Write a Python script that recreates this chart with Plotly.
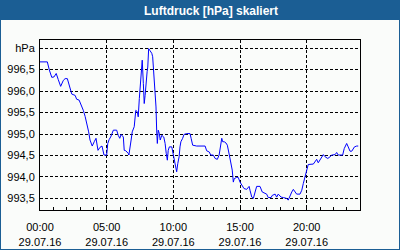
import plotly.graph_objects as go

minutes = [0, 33, 42, 53, 63, 73, 82, 93, 105, 113, 123, 135, 143, 158, 165, 176, 188, 195, 203, 210,
           219, 225, 235, 244, 252, 261, 270, 279, 288, 300, 305, 311, 318, 330, 345, 352, 359, 365, 375, 379,
           386, 397, 400, 410, 415, 424, 431, 438, 442, 447, 451, 458, 460, 465, 469, 473, 477, 482, 485, 489,
           494, 498, 503, 507, 512, 518, 522, 525, 528, 532, 537, 541, 548, 557, 563, 568, 573, 577, 582, 593,
           600, 604, 611, 615, 620, 626, 630, 634, 642, 648, 660, 675, 680, 687, 705, 743, 750, 762, 768, 780,
           788, 798, 806, 813, 818, 822, 829, 837, 843, 852, 858, 865, 870, 874, 885, 892, 900, 908, 918, 930,
           937, 941, 945, 953, 960, 968, 975, 990, 1000, 1020, 1027, 1040, 1045, 1058, 1065, 1072, 1085, 1095, 1110, 1117,
           1125, 1133, 1140, 1148, 1155, 1170, 1178, 1185, 1193, 1200, 1207, 1230, 1238, 1245, 1252, 1260, 1268, 1275, 1283, 1295,
           1305, 1313, 1328, 1335, 1342, 1362, 1369, 1380, 1387, 1395, 1403, 1415, 1425, 1432]
pressure = [996.68, 996.68, 996.49, 996.32, 996.33, 996.41, 996.27, 996.11, 996.25, 996.29, 996.29, 996.10, 995.93, 995.90, 995.81, 995.79, 995.66, 995.55, 995.41, 995.28,
            995.05, 994.86, 994.72, 994.82, 994.90, 994.62, 994.69, 994.72, 994.51, 994.51, 994.78, 994.87, 994.93, 995.09, 995.09, 994.97, 994.90, 994.99, 994.93, 994.62,
            994.61, 994.55, 994.51, 994.86, 995.05, 995.17, 995.55, 995.52, 995.40, 995.83, 996.18, 996.53, 996.72, 996.18, 995.71, 995.90, 996.29, 996.45, 996.56, 996.99,
            996.95, 996.91, 996.88, 996.80, 996.41, 995.98, 995.63, 995.09, 994.78, 995.09, 995.01, 994.86, 994.97, 994.93, 994.78, 994.55, 994.39, 994.62, 994.70, 994.70,
            994.51, 994.35, 994.23, 994.12, 994.31, 994.47, 994.70, 994.82, 994.90, 994.99, 995.01, 995.01, 994.90, 994.74, 994.72, 994.72, 994.61, 994.58, 994.51, 994.51,
            994.43, 994.41, 994.51, 994.70, 994.90, 994.82, 994.82, 994.79, 994.74, 994.51, 994.35, 994.16, 993.88, 993.96, 993.99, 993.99, 993.88, 993.81, 993.73, 993.71,
            993.75, 993.78, 993.69, 993.53, 993.50, 993.65, 993.78, 993.78, 993.65, 993.60, 993.52, 993.52, 993.57, 993.60, 993.53, 993.60, 993.53, 993.52, 993.50, 993.46,
            993.57, 993.65, 993.71, 993.65, 993.60, 993.60, 993.69, 993.85, 994.00, 994.16, 994.29, 994.30, 994.35, 994.41, 994.33, 994.39, 994.48, 994.52, 994.47, 994.43,
            994.47, 994.51, 994.52, 994.57, 994.51, 994.51, 994.66, 994.78, 994.70, 994.60, 994.60, 994.70, 994.72, 994.72]

times = ["2016-07-29 %02d:%02d:00" % (m // 60, m % 60) for m in minutes]

x_tick_vals = ["2016-07-29 00:00", "2016-07-29 05:00", "2016-07-29 10:00", "2016-07-29 15:00", "2016-07-29 20:00"]
x_tick_text = ["00:00<br>29.07.16", "05:00<br>29.07.16", "10:00<br>29.07.16", "15:00<br>29.07.16", "20:00<br>29.07.16"]
y_tick_vals = [993.5, 994.0, 994.5, 995.0, 995.5, 996.0, 996.5, 997.0]
y_tick_text = ["993,5", "994,0", "994,5", "995,0", "995,5", "996,0", "996,5", "hPa"]

title_text = "Luftdruck [hPa] skaliert"
BG = "#fafcfa"
BLUE = "#1b5e94"

fig = go.Figure()
fig.add_trace(go.Scatter(x=times, y=pressure, mode="lines",
                         line=dict(color="#0000ff", width=1), hoverinfo="skip"))

# plot area: x 40..360, y 40..210 px
def px(x):
    return (x - 40) / 320.0

def py(y):
    return (210 - y) / 170.0

fig.update_layout(
    width=400, height=250,
    margin=dict(l=40, r=40, t=40, b=40),
    paper_bgcolor=BG, plot_bgcolor=BG,
    showlegend=False,
    font=dict(family="Liberation Sans, Arial, sans-serif", size=11, color="black"),
    title=dict(text="<b>" + title_text + "</b>", x=211 / 400, xanchor="center",
               y=1 - 10.5 / 250, yanchor="middle", yref="container",
               font=dict(family="Liberation Sans, Arial, sans-serif", size=12, color="white")),
    shapes=[
        dict(type="rect", xref="paper", yref="paper", x0=px(0), x1=px(400), y0=py(20), y1=py(0),
             fillcolor=BLUE, line=dict(width=0), layer="below"),
        dict(type="rect", xref="paper", yref="paper", x0=px(0), x1=px(400), y0=py(250), y1=py(0),
             fillcolor="rgba(0,0,0,0)", line=dict(color=BLUE, width=2), layer="above"),
    ],
)

fig.update_xaxes(
    type="date",
    range=["2016-07-29 00:00", "2016-07-30 00:00"],
    tickmode="array", tickvals=x_tick_vals, ticktext=x_tick_text,
    ticks="inside", ticklen=3, tickcolor="black",
    showline=True, linecolor="black", linewidth=1, mirror=True,
    showgrid=True, gridcolor="black", gridwidth=1, griddash="3px,2px",
    minor=dict(tickmode="linear", tick0="2016-07-29 00:00", dtick=3600000,
               ticks="inside", ticklen=3, tickcolor="black", showgrid=False),
    zeroline=False, ticklabelstandoff=7, automargin=False,
)
fig.update_yaxes(
    range=[993.23, 997.19],
    tickmode="array", tickvals=y_tick_vals, ticktext=y_tick_text,
    ticks="", showline=True, linecolor="black", linewidth=1, mirror=True,
    showgrid=True, gridcolor="black", gridwidth=1, griddash="3px,2px",
    zeroline=False, ticklabelstandoff=2, automargin=False,
)

fig.write_html("out.html")
